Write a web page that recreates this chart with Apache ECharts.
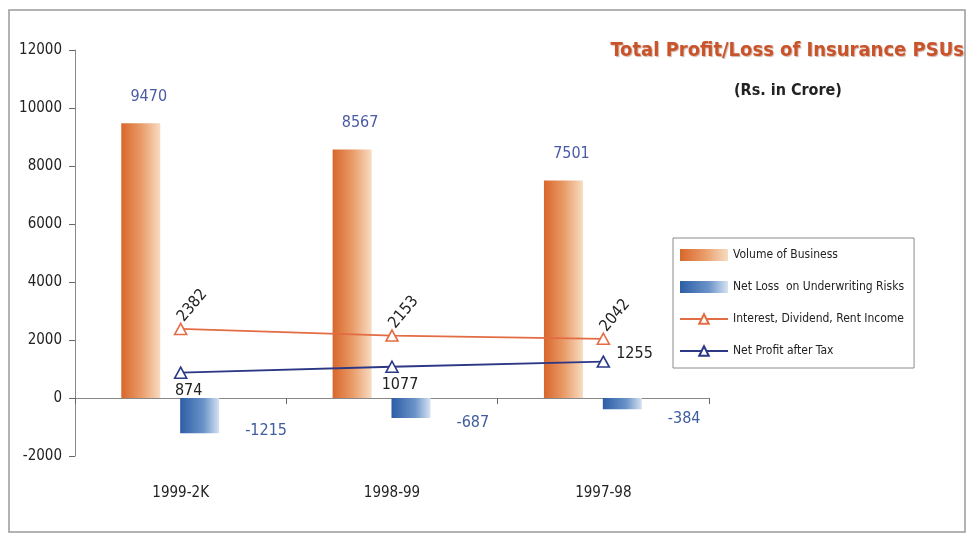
<!DOCTYPE html>
<html>
<head>
<meta charset="utf-8">
<script src="https://cdn.jsdelivr.net/npm/echarts@6/dist/echarts.min.js"></script>
<style>
  html, body { margin: 0; padding: 0; background: #fff; }
  #chart { width: 974px; height: 535px; }
</style>
</head>
<body>
<div id="chart"></div>
<script>
  // values (Rs. in Crore)
  const categories = ['1999-2K', '1998-99', '1997-98'];
  const volumeOfBusiness = [9470, 8567, 7501];
  const netLossUnderwriting = [-1215, -687, -384];
  const interestIncome = [2382, 2153, 2042];
  const netProfitAfterTax = [874, 1077, 1255];

  const FONT = "'Liberation Sans Narrow', 'DejaVu Sans Condensed', sans-serif";

  const chart = echarts.init(document.getElementById('chart'));

  const orangeFill = new echarts.graphic.LinearGradient(0, 0, 1, 0, [
    { offset: 0, color: '#d8672c' },
    { offset: 0.5, color: '#e99a66' },
    { offset: 1, color: '#f7dcc2' },
  ]);
  const blueFill = new echarts.graphic.LinearGradient(0, 0, 1, 0, [
    { offset: 0, color: '#2d5da6' },
    { offset: 0.6, color: '#6a93c8' },
    { offset: 1, color: '#d6e2f2' },
  ]);

  // last profit point has its label on the right, others below
  const profitData = netProfitAfterTax.map((v, i) => ({
    value: v,
    label: i === netProfitAfterTax.length - 1
      ? { position: 'right', distance: 6, offset: [0, -8] }
      : { position: 'bottom', distance: 0, offset: [8, 4] },
  }));

  const option = {
    animation: false,
    textStyle: { fontFamily: FONT },
    graphic: [
      {
        type: 'rect',
        shape: { x: 9, y: 10, width: 956, height: 522 },
        style: { fill: 'none', stroke: '#9a9a9a', lineWidth: 1.5 },
        silent: true,
      },
    ],
    title: [
      {
        text: 'Total Profit/Loss of Insurance PSUs',
        right: 5,
        top: 36,
        textStyle: {
          fontFamily: FONT,
          fontSize: 20,
          fontWeight: 'bold',
          color: '#c9532a',
          textShadowColor: 'rgba(120,40,10,0.35)',
          textShadowBlur: 1,
          textShadowOffsetX: 1,
          textShadowOffsetY: 1,
        },
      },
      {
        text: '(Rs. in Crore)',
        left: 729,
        top: 78,
        textStyle: { fontFamily: FONT, fontSize: 16, fontWeight: 'bold', color: '#222' },
      },
    ],
    legend: {
      orient: 'vertical',
      left: 673,
      top: 238,
      padding: [11, 10, 11, 6],
      itemGap: 20,
      itemWidth: 48,
      itemHeight: 12,
      itemTextGap: 5,
      borderColor: '#8a8a8a',
      borderWidth: 1,
      textStyle: { fontFamily: FONT, fontSize: 12, color: '#222' },
      data: [
        { name: 'Volume of Business', icon: 'rect' },
        { name: 'Net Loss  on Underwriting Risks', icon: 'rect' },
        'Interest, Dividend, Rent Income',
        'Net Profit after Tax',
      ],
    },
    grid: { left: 75, right: 265, top: 50, bottom: 79, containLabel: false, outerBoundsMode: 'none' },
    xAxis: [
      {
        // axis line through zero, with boundary ticks
        type: 'category',
        data: categories,
        axisLine: { onZero: true, lineStyle: { color: '#888', width: 1 } },
        axisTick: { show: true, length: 6, lineStyle: { color: '#666' } },
        axisLabel: { show: false },
      },
      {
        // category names along the bottom
        type: 'category',
        data: categories,
        position: 'bottom',
        axisLine: { show: false, onZero: false },
        axisTick: { show: false },
        axisLabel: { margin: 30, fontSize: 15, color: '#222', fontFamily: FONT },
      },
    ],
    yAxis: {
      type: 'value',
      min: -2000,
      max: 12000,
      interval: 2000,
      splitLine: { show: false },
      axisLine: { show: true, lineStyle: { color: '#888' } },
      axisTick: { show: true, length: 6, lineStyle: { color: '#666' } },
      axisLabel: {
        margin: 13,
        fontSize: 15,
        color: '#222',
        fontFamily: FONT,
        formatter: (v) => String(v),
      },
    },
    series: [
      {
        name: 'Volume of Business',
        type: 'bar',
        data: volumeOfBusiness,
        barWidth: 39,
        barGap: '51%',
        itemStyle: { color: orangeFill },
        label: {
          show: true,
          position: 'top',
          distance: 19,
          offset: [8, 0],
          fontSize: 16,
          color: '#4b5aa6',
          fontFamily: FONT,
        },
      },
      {
        name: 'Net Loss  on Underwriting Risks',
        type: 'bar',
        data: netLossUnderwriting,
        barWidth: 39,
        barGap: '51%',
        itemStyle: { color: blueFill },
        label: {
          show: true,
          position: 'right',
          distance: 26,
          offset: [0, 15],
          fontSize: 16,
          color: '#3e5c9e',
          fontFamily: FONT,
        },
      },
      {
        // narrow empty slot so the bar pair sits left of the line markers
        name: '_slot',
        type: 'bar',
        data: [],
        barWidth: 1,
        barGap: '51%',
        silent: true,
      },
      {
        name: 'Interest, Dividend, Rent Income',
        type: 'line',
        data: interestIncome,
        symbol: 'triangle',
        symbolSize: [12, 11],
        lineStyle: { color: '#e36c44', width: 1.8 },
        itemStyle: { color: '#fff', borderColor: '#e36c44', borderWidth: 1.6 },
        label: {
          show: true,
          position: 'top',
          distance: 3,
          rotate: 50,
          align: 'left',
          verticalAlign: 'middle',
          fontSize: 16,
          color: '#222',
          fontFamily: FONT,
        },
        z: 5,
      },
      {
        name: 'Net Profit after Tax',
        type: 'line',
        data: profitData,
        symbol: 'triangle',
        symbolSize: [12, 11],
        lineStyle: { color: '#2c3886', width: 1.8 },
        itemStyle: { color: '#fff', borderColor: '#2c3886', borderWidth: 1.6 },
        label: {
          show: true,
          fontSize: 16,
          color: '#222',
          fontFamily: FONT,
        },
        z: 5,
      },
    ],
  };

  chart.setOption(option);
</script>
</body>
</html>
